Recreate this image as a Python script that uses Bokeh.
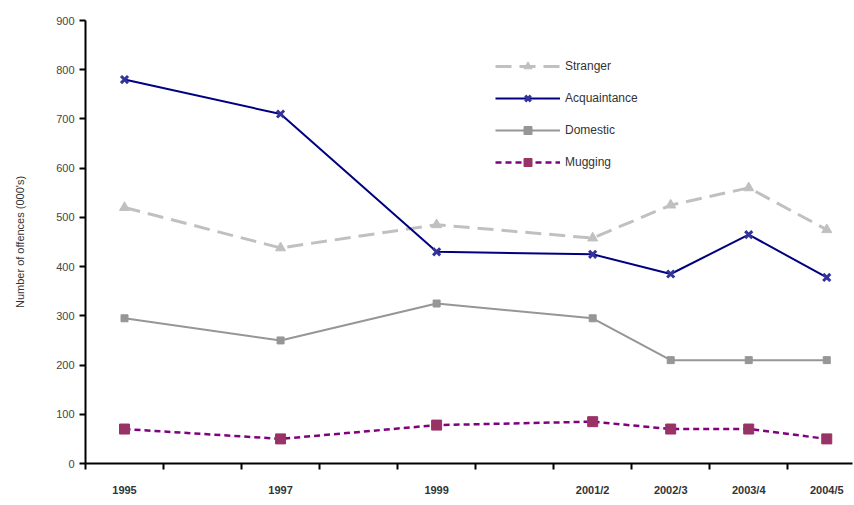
from bokeh.plotting import figure
from bokeh.models import Range1d, FixedTicker, Legend, LegendItem
from bokeh.embed import file_html
from bokeh.resources import INLINE

# data
period_labels = ["1995", "1997", "1999", "2001/2", "2002/3", "2003/4", "2004/5"]
period_start = [1995, 1997, 1999, 2001, 2002, 2003, 2004]
stranger = [520, 438, 485, 458, 525, 560, 475]
acquaintance = [780, 710, 430, 425, 385, 465, 378]
domestic = [295, 250, 325, 295, 210, 210, 210]
mugging = [70, 50, 78, 85, 70, 70, 50]
y_ticks = [0, 100, 200, 300, 400, 500, 600, 700, 800, 900]

xs = [y + 0.5 for y in period_start]

p = figure(width=853, height=503, output_backend="svg", toolbar_location=None,
           x_range=Range1d(1995, 1995 + 9.83), y_range=Range1d(0, 900),
           min_border_left=85, min_border_top=20, min_border_bottom=40, min_border_right=1)
p.outline_line_color = None
p.grid.visible = False
p.background_fill_color = "white"
p.border_fill_color = "white"

font = "Liberation Sans"

l1 = p.line(xs, stranger, line_color="#C0C0C0", line_width=3, line_dash="16 8")
m1 = p.scatter(xs, stranger, marker="triangle", size=10, fill_color="#C0C0C0", line_color="#C0C0C0")
l2 = p.line(xs, acquaintance, line_color="#000080", line_width=2)
m2 = p.scatter(xs, acquaintance, marker="x", size=10, line_color="#333399", line_width=3)
l3 = p.line(xs, domestic, line_color="#969696", line_width=2)
m3 = p.scatter(xs, domestic, marker="square", size=7, fill_color="#969696", line_color="#969696")
l4 = p.line(xs, mugging, line_color="#800080", line_width=2.5, line_dash="6 4")
m4 = p.scatter(xs, mugging, marker="square", size=10, fill_color="#993366", line_color="#993366")

legend = Legend(items=[
    LegendItem(label="Stranger", renderers=[l1, m1]),
    LegendItem(label="Acquaintance", renderers=[l2, m2]),
    LegendItem(label="Domestic", renderers=[l3, m3]),
    LegendItem(label="Mugging", renderers=[l4, m4]),
], location=(410, 291), border_line_color=None, background_fill_alpha=0,
    glyph_width=65, glyph_height=20, label_height=20, spacing=12, padding=0, margin=0,
    label_standoff=5, label_text_font=font, label_text_font_size="12px", label_text_color="#333333")
p.add_layout(legend, "center")

# y axis
p.yaxis.ticker = FixedTicker(ticks=y_ticks)
p.yaxis.axis_line_width = 2
p.yaxis.major_tick_line_width = 2
p.yaxis.major_tick_out = 6
p.yaxis.major_tick_in = 0
p.yaxis.minor_tick_line_color = None
p.yaxis.major_label_text_font = font
p.yaxis.major_label_text_font_size = "11px"
p.yaxis.major_label_text_color = "#444444"
p.yaxis.axis_label = "Number of offences (000's)"
p.yaxis.axis_label_text_font = font
p.yaxis.axis_label_text_font_size = "11px"
p.yaxis.axis_label_text_font_style = "normal"
p.yaxis.axis_label_text_color = "#333333"
p.yaxis.axis_label_standoff = 27

# x axis: labels at slot centres, ticks at slot boundaries
p.xaxis.ticker = FixedTicker(ticks=xs, minor_ticks=list(range(1995, 2005)))
p.xaxis.major_label_overrides = {x: lab for x, lab in zip(xs, period_labels)}
p.xaxis.axis_line_width = 2
p.xaxis.major_tick_line_color = None
p.xaxis.minor_tick_line_width = 2
p.xaxis.minor_tick_out = 6
p.xaxis.minor_tick_in = 0
p.xaxis.major_label_standoff = 14
p.xaxis.major_label_text_font = font
p.xaxis.major_label_text_font_size = "11px"
p.xaxis.major_label_text_font_style = "bold"
p.xaxis.major_label_text_color = "#333333"

open("out.html", "w").write(file_html(p, INLINE))
